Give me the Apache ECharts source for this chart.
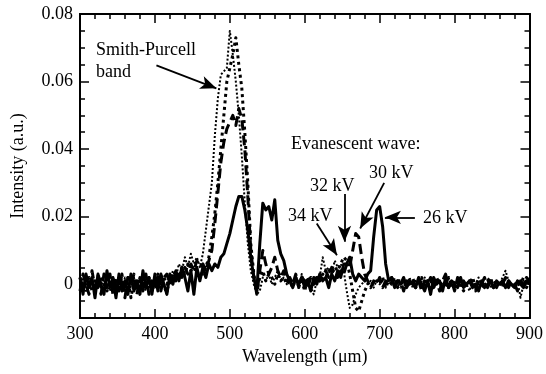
<!DOCTYPE html>
<html><head><meta charset="utf-8">
<script src="https://cdn.jsdelivr.net/npm/echarts@6/dist/echarts.min.js"></script>
<style>html,body{margin:0;padding:0;background:#fff}#c{width:546px;height:374px}</style>
</head><body><div id="c"></div>
<script>
// Wavelength (µm)
var wavelength = [
300,304,308,312,316,320,324,328,332,336,
340,344,348,352,356,360,364,368,372,376,
380,384,388,392,396,400,404,408,412,416,
420,424,428,432,436,440,444,448,452,456,
460,464,468,472,476,480,484,488,492,496,
500,504,508,512,516,520,524,528,532,536,
540,544,548,552,556,560,564,568,572,576,
580,584,588,592,596,600,604,608,612,616,
620,624,628,632,636,640,644,648,652,656,
660,664,668,672,676,680,684,688,692,696,
700,704,708,712,716,720,724,728,732,736,
740,744,748,752,756,760,764,768,772,776,
780,784,788,792,796,800,804,808,812,816,
820,824,828,832,836,840,844,848,852,856,
860,864,868,872,876,880,884,888,892,896,
900];
var kv26 = [
0.002,-0.003,0.003,-0.001,0.002,-0.004,0.003,0.000,-0.003,0.004,
-0.001,0.002,-0.004,0.003,-0.002,0.001,-0.003,0.003,-0.002,0.001,
-0.003,0.004,-0.001,0.002,-0.003,0.003,-0.002,0.003,0.000,-0.003,
0.003,0.000,0.004,0.001,0.005,0.002,-0.002,0.004,-0.003,0.005,
0.001,0.005,0.002,0.006,0.004,0.006,0.005,0.008,0.009,0.012,
0.015,0.019,0.023,0.026,0.026,0.022,0.016,0.008,0.002,-0.002,
0.012,0.024,0.022,0.023,0.019,0.025,0.013,0.009,0.007,0.003,
0.001,-0.001,0.002,0.000,0.002,-0.001,0.001,-0.002,0.002,0.000,
0.003,0.001,0.002,-0.001,0.003,0.001,0.004,0.002,0.006,0.006,
0.008,0.003,0.001,0.003,0.002,0.001,0.003,0.004,0.014,0.022,
0.023,0.017,0.006,0.001,0.002,-0.001,0.001,0.000,0.002,-0.001,
0.001,0.000,-0.001,0.002,0.000,-0.002,0.001,-0.003,0.002,0.000,
0.001,-0.002,0.002,-0.001,0.001,0.000,-0.001,0.002,-0.001,0.000,
0.001,-0.001,0.000,-0.002,0.001,-0.001,0.000,0.001,-0.001,0.001,
0.000,0.001,-0.001,0.001,0.000,-0.001,0.001,0.000,-0.001,0.001,
0.000];
var kv30 = [
-0.002,0.003,0.000,-0.003,0.004,-0.001,0.002,-0.003,0.003,-0.001,
0.003,-0.003,0.001,-0.002,0.003,-0.004,0.002,0.000,0.003,-0.003,
0.002,-0.002,0.003,-0.003,0.001,-0.001,0.003,-0.002,0.002,0.003,
0.000,0.003,0.001,0.004,0.002,0.005,0.003,0.006,0.004,0.007,
0.005,0.006,0.004,0.007,0.010,0.018,0.027,0.036,0.042,0.046,
0.048,0.050,0.047,0.052,0.049,0.040,0.026,0.010,0.002,-0.003,
0.004,0.010,0.006,0.003,0.005,0.008,0.004,0.002,0.004,0.001,
0.002,0.000,0.003,-0.001,0.002,0.001,-0.001,0.002,0.000,0.003,
0.001,0.002,0.004,0.002,0.005,0.003,0.002,0.004,0.003,0.006,
0.005,0.010,0.015,0.014,0.008,0.003,0.001,-0.001,0.001,0.000,
0.002,-0.001,0.001,0.000,0.002,-0.001,0.001,0.001,-0.002,0.001,
0.000,0.002,-0.001,0.001,-0.002,0.001,0.000,0.002,-0.001,0.001,
-0.002,0.001,0.003,-0.001,0.001,-0.002,0.002,0.000,0.001,-0.001,
0.001,0.000,-0.002,0.001,0.000,0.002,-0.001,0.001,0.000,-0.001,
0.001,0.000,0.002,-0.001,0.001,0.000,-0.002,0.001,0.000,0.002,
0.001];
var kv32 = [
0.002,-0.001,0.000,0.002,-0.002,0.001,-0.001,0.002,0.000,-0.002,
0.001,0.000,0.002,-0.002,0.001,-0.001,0.002,-0.004,0.001,0.000,
0.002,-0.001,0.000,0.002,-0.002,0.001,0.003,-0.001,0.002,0.000,
0.002,0.001,0.004,0.002,0.005,0.003,0.006,0.004,0.005,0.003,
0.004,0.003,0.005,0.008,0.014,0.021,0.030,0.040,0.050,0.060,
0.064,0.068,0.073,0.065,0.058,0.045,0.030,0.012,0.003,-0.002,
0.002,0.004,0.001,0.003,0.002,0.000,0.003,0.001,0.002,0.000,
0.001,-0.001,0.002,0.000,0.001,-0.002,0.002,0.001,0.000,0.002,
0.001,0.003,0.002,0.004,0.003,0.005,0.004,0.006,0.008,0.007,
0.003,-0.002,-0.007,-0.008,-0.005,-0.002,0.000,0.001,0.000,0.001,
0.000,0.002,-0.001,0.001,0.000,0.002,-0.001,0.000,0.001,-0.001,
0.001,0.000,-0.001,0.001,0.002,-0.001,0.000,0.001,-0.001,0.002,
0.000,0.001,-0.001,0.002,0.000,-0.001,0.001,0.000,-0.002,0.001,
0.000,0.002,-0.001,0.001,0.000,-0.001,0.001,0.002,-0.001,0.000,
0.001,-0.001,0.002,0.001,0.000,-0.001,0.001,0.000,0.002,-0.001,
0.001];
var kv34 = [
0.000,0.002,-0.002,0.001,0.000,-0.001,0.003,-0.001,0.001,0.000,
-0.002,0.002,0.000,0.001,-0.002,0.002,0.000,-0.001,0.002,-0.001,
0.001,0.000,-0.002,0.002,0.001,-0.001,0.001,0.002,-0.001,-0.003,
0.001,0.004,0.002,0.006,0.004,0.008,0.005,0.009,0.006,0.008,
0.005,0.009,0.016,0.023,0.030,0.044,0.055,0.062,0.063,0.064,
0.075,0.068,0.060,0.050,0.038,0.024,0.012,0.004,0.000,-0.003,
-0.002,0.002,0.001,0.003,0.000,0.002,0.004,0.001,0.002,0.000,
0.002,0.000,0.001,-0.001,0.003,0.000,0.002,-0.001,-0.003,0.001,
0.002,0.008,0.004,0.005,0.003,0.007,0.005,0.006,0.004,-0.002,
-0.007,-0.006,-0.003,-0.001,0.000,0.001,0.000,0.001,-0.001,0.001,
0.000,0.001,-0.001,0.002,0.000,0.001,0.000,-0.001,0.001,0.000,
0.002,-0.001,0.001,0.000,-0.001,0.002,0.001,-0.001,0.000,0.001,
0.001,-0.001,0.000,0.002,-0.001,0.001,0.000,-0.001,0.001,0.000,
-0.002,0.001,0.000,0.002,-0.001,0.000,0.001,-0.001,0.001,0.000,
0.000,0.002,0.004,0.001,0.000,-0.001,0.001,-0.004,0.000,0.001,
0.000];
var yTickLabels = [0, 0.02, 0.04, 0.06, 0.08];
var xTickLabels = [300, 400, 500, 600, 700, 800, 900];
// arrow annotations: [from, to] in data coordinates
var arrows = [
  [[402, 0.0648], [482, 0.0580]],
  [[616, 0.0180], [643, 0.0086]],
  [[653, 0.0267], [653, 0.0126]],
  [[706, 0.0300], [674, 0.0165]],
  [[747, 0.0198], [707, 0.0198]]
];

function pairs(ys){ return wavelength.map(function(x,i){ return [x, ys[i]]; }); }
var FONT = '"Liberation Serif", "Times New Roman", serif';
var FS = 18;
var chart = echarts.init(document.getElementById('c'), null, {renderer:'canvas'});
var tickMajorY = {show:true, inside:true, length:9, lineStyle:{color:'#000', width:1.5}, customValues: yTickLabels};
function yAx(pos, major){
  return {type:'value', position:pos, min:-0.01, max:0.08, interval:0.005,
    axisLine:{show:true, onZero:false, lineStyle:{color:'#000', width:2}},
    splitLine:{show:false},
    axisTick: major ? tickMajorY : {show:true, inside:true, length:5, lineStyle:{color:'#000', width:1.5}},
    axisLabel:{show:false}};
}
var y0 = yAx('left', false);
y0.axisLabel = {show:true, margin:7, color:'#000', fontFamily:FONT, fontSize:FS,
  customValues: yTickLabels,
  formatter:function(v){ return v === 0 ? '0' : v.toFixed(2); }};
y0.name = 'Intensity (a.u.)';
y0.nameLocation = 'middle';
y0.nameGap = 53;
y0.nameTextStyle = {color:'#000', fontFamily:FONT, fontSize:FS};
function xAx(pos, labels){
  return {type:'value', position:pos, min:300, max:900, interval:100,
    axisLine:{show:true, onZero:false, lineStyle:{color:'#000', width:2}},
    splitLine:{show:false},
    axisTick:{show:true, inside:true, length:9, lineStyle:{color:'#000', width:1.5}},
    minorTick:{show:true, splitNumber:5, length:5, lineStyle:{color:'#000', width:1.5}},
    axisLabel: labels ? {show:true, margin:7, color:'#000', fontFamily:FONT, fontSize:FS} : {show:false}};
}
var x0 = xAx('bottom', true);
x0.name = 'Wavelength (\u03bcm)';
x0.nameLocation = 'middle';
x0.nameGap = 28;
x0.nameTextStyle = {color:'#000', fontFamily:FONT, fontSize:FS};

function lineSeries(name, ys, width, dash){
  return {name:name, type:'line', data:pairs(ys), showSymbol:false, symbol:'none',
    xAxisIndex:0, yAxisIndex:0, animation:false, silent:true,
    lineStyle:{color:'#000', width:width, type:dash, cap:'butt', join:'round'}};
}
var arrowSeries = {type:'line', data:[], xAxisIndex:0, yAxisIndex:0, silent:true, animation:false,
  markLine:{silent:true, animation:false, symbol:['none','arrow'], symbolSize:[10,16],
    label:{show:false}, lineStyle:{color:'#000', width:1.8, type:'solid'},
    data: arrows.map(function(a){ return [{coord:a[0]}, {coord:a[1]}]; })}};

function txt(x, y, s){
  return {type:'text', x:x, y:y, silent:true, style:{text:s, font:FS + 'px ' + FONT, fill:'#000', verticalAlign:'middle', textVerticalAlign:'middle'}};
}
chart.setOption({
  backgroundColor:'#fff',
  animation:false,
  grid:{left:80, right:14, top:14, bottom:56, containLabel:false},
  xAxis:[x0, xAx('top', false)],
  yAxis:[y0, yAx('left', true), yAx('right', false), yAx('right', true)],
  series:[
    lineSeries('34 kV', kv34, 2, [2, 2]),
    lineSeries('32 kV', kv32, 3, [3, 3.5]),
    lineSeries('30 kV', kv30, 3, [10, 5]),
    lineSeries('26 kV', kv26, 3, 'solid'),
    arrowSeries
  ],
  graphic:[
    txt(96, 50, 'Smith-Purcell'),
    txt(96, 72, 'band'),
    txt(291, 144, 'Evanescent wave:'),
    txt(369, 173, '30 kV'),
    txt(310, 186, '32 kV'),
    txt(288, 216, '34 kV'),
    txt(423, 218, '26 kV')
  ]
});
</script></body></html>
